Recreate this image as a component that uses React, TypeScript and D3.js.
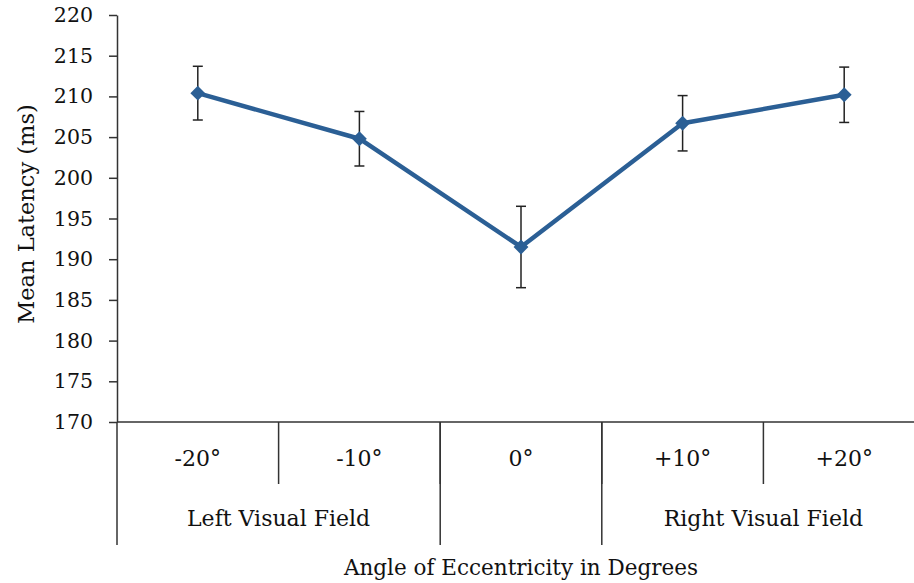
import React, { useEffect, useRef } from 'react';
import * as d3 from 'd3';

const WIDTH = 914;
const HEIGHT = 583;

const MARGIN = { top: 15, right: -11, bottom: 161, left: 117 };

const categories = ['-20°', '-10°', '0°', '+10°', '+20°'];
const meanLatency = [210.4, 204.8, 191.5, 206.7, 210.2];
const errors = [3.3, 3.35, 5.0, 3.4, 3.4];
const yTicks = [170, 175, 180, 185, 190, 195, 200, 205, 210, 215, 220];

// outer groups: label + how many categories they cover
const groups = [
  { label: 'Left Visual Field', span: 2 },
  { label: '', span: 1 },
  { label: 'Right Visual Field', span: 2 },
];

const LINE_COLOR = '#2b5f95';
const FONT = 'DejaVu Serif';

export default function App() {
  const ref = useRef<SVGSVGElement>(null);

  useEffect(() => {
    const svg = d3.select(ref.current);
    svg.selectAll('*').remove();

    const x = d3.scaleBand()
      .domain(categories)
      .range([MARGIN.left, WIDTH - MARGIN.right])
      .padding(0);

    const y = d3.scaleLinear()
      .domain([170, 220])
      .range([HEIGHT - MARGIN.bottom, MARGIN.top]);

    const baseY = y(170);

    // y axis
    const yAxis = svg.append('g')
      .attr('transform', `translate(${MARGIN.left}, 0)`)
      .call(d3.axisLeft(y).tickValues(yTicks).tickSize(8).tickPadding(16).tickSizeOuter(0));
    yAxis.attr('font-family', FONT).attr('font-size', 20.5);
    yAxis.selectAll('line, path').attr('stroke', '#333').attr('stroke-width', 1.5);
    yAxis.selectAll('text').attr('fill', '#111');

    const label = (sel: any, size: number) => sel
      .attr('font-family', FONT)
      .attr('font-size', size)
      .attr('fill', '#111')
      .attr('text-anchor', 'middle');

    // x axis line
    svg.append('line')
      .attr('x1', MARGIN.left).attr('x2', WIDTH)
      .attr('y1', baseY).attr('y2', baseY)
      .attr('stroke', '#333').attr('stroke-width', 1.5);

    // category separators (first level)
    categories.slice(1).forEach(c => {
      svg.append('line')
        .attr('x1', x(c)!).attr('x2', x(c)!)
        .attr('y1', baseY).attr('y2', baseY + 62)
        .attr('stroke', '#333').attr('stroke-width', 1.5);
    });

    svg.selectAll('.cat')
      .data(categories)
      .enter()
      .append('text')
      .attr('x', d => x(d)! + x.bandwidth() / 2)
      .attr('y', baseY + 44)
      .call(label, 22)
      .text(d => d);

    // group separators (second level)
    let idx = 0;
    const edges = [0];
    groups.forEach(g => { idx += g.span; edges.push(idx); });
    edges.slice(0, -1).forEach(e => {
      const xe = x(categories[e])!;
      svg.append('line')
        .attr('x1', xe).attr('x2', xe)
        .attr('y1', baseY).attr('y2', baseY + 123)
        .attr('stroke', '#333').attr('stroke-width', 1.5);
    });

    groups.forEach((g, i) => {
      const start = x(categories[edges[i]])!;
      svg.append('text')
        .attr('x', start + (g.span * x.bandwidth()) / 2)
        .attr('y', baseY + 104)
        .call(label, 22)
        .text(g.label);
    });

    // axis titles
    svg.append('text')
      .attr('x', 521)
      .attr('y', 575)
      .call(label, 21.5)
      .text('Angle of Eccentricity in Degrees');

    svg.append('text')
      .attr('transform', `translate(34, 214) rotate(-90)`)
      .call(label, 22.5)
      .text('Mean Latency (ms)');

    const cx = (i: number) => x(categories[i])! + x.bandwidth() / 2;

    // error bars
    const eb = svg.append('g');
    meanLatency.forEach((v, i) => {
      const top = y(v + errors[i]);
      const bot = y(v - errors[i]);
      eb.append('line').attr('x1', cx(i)).attr('x2', cx(i)).attr('y1', top).attr('y2', bot);
      eb.append('line').attr('x1', cx(i) - 5).attr('x2', cx(i) + 5).attr('y1', top).attr('y2', top);
      eb.append('line').attr('x1', cx(i) - 5).attr('x2', cx(i) + 5).attr('y1', bot).attr('y2', bot);
    });
    eb.selectAll('line').attr('stroke', '#222').attr('stroke-width', 1.5);

    // line
    const line = d3.line<number>()
      .x((_, i) => cx(i))
      .y(d => y(d));

    svg.append('path')
      .datum(meanLatency)
      .attr('d', line)
      .attr('fill', 'none')
      .attr('stroke', LINE_COLOR)
      .attr('stroke-width', 4.5)
      .attr('stroke-linejoin', 'round');

    // diamond markers
    const diamond = d3.symbol().type(d3.symbolDiamond2).size(140);
    svg.selectAll('.marker')
      .data(meanLatency)
      .enter()
      .append('path')
      .attr('d', diamond)
      .attr('transform', (d, i) => `translate(${cx(i)}, ${y(d)})`)
      .attr('fill', LINE_COLOR);
  }, []);

  return (
    <svg
      ref={ref}
      width={WIDTH}
      height={HEIGHT}
      style={{ position: 'absolute', left: 0, top: 0, background: '#fff' }}
    />
  );
}
